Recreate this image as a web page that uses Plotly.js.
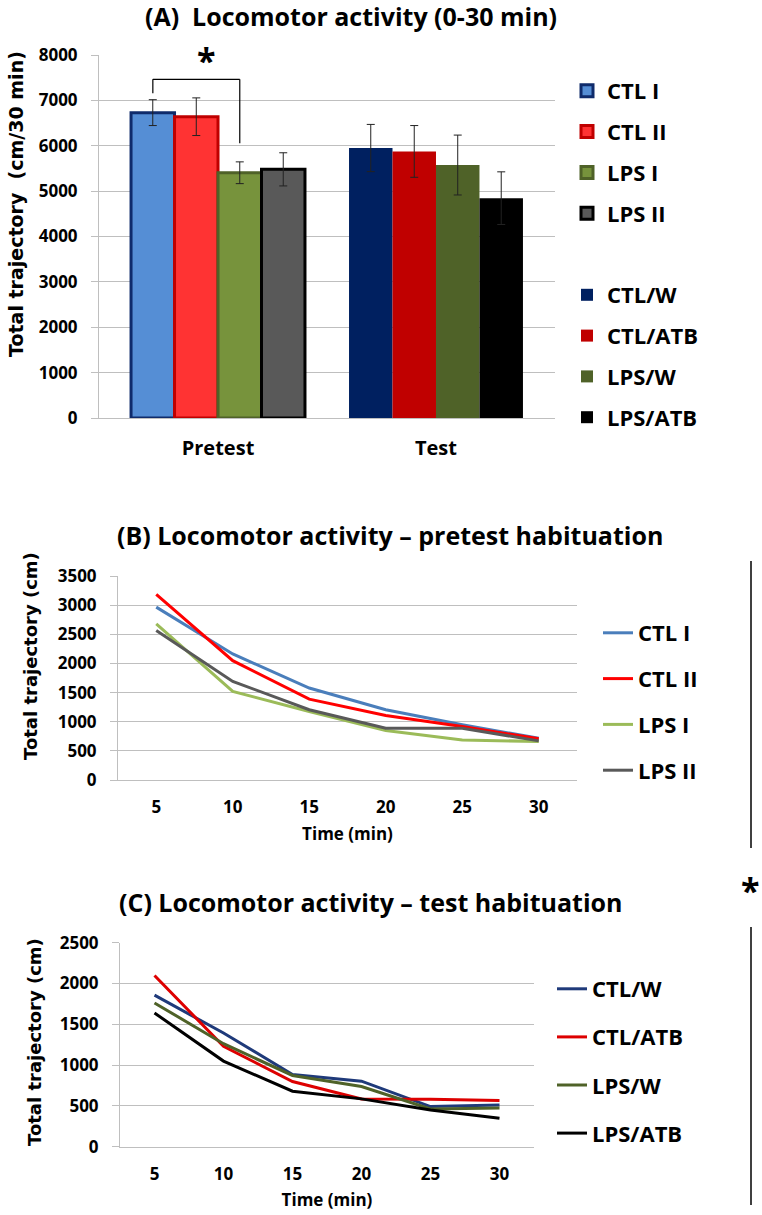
<!DOCTYPE html>
<html>
<head>
<meta charset="utf-8">
<script src="https://cdn.plot.ly/plotly-3.0.1.min.js"></script>
<style>
html,body{margin:0;padding:0;background:#fff;}
#chart{width:762px;height:1215px;}
</style>
</head>
<body>
<div id="chart"></div>
<script>
// ---------- DATA ----------
const categoriesA = ['Pretest', 'Test'];
const pretestNames = ['CTL I', 'CTL II', 'LPS I', 'LPS II'];
const pretestValues = [6730, 6640, 5405, 5480];
const pretestErrors = [285, 415, 240, 365];
const testNames = ['CTL/W', 'CTL/ATB', 'LPS/W', 'LPS/ATB'];
const testValues = [5950, 5875, 5575, 4845];
const testErrors = [520, 570, 660, 580];

const timeLabels = ['5', '10', '15', '20', '25', '30'];
// Panel B (pretest habituation)
const ctlI = [2966, 2163, 1578, 1205, 947, 717];
const ctlII = [3184, 2048, 1388, 1107, 918, 706];
const lpsI = [2679, 1520, 1176, 849, 688, 660];
const lpsII = [2564, 1692, 1205, 889, 889, 671];
// Panel C (test habituation)
const ctlW = [1857, 1393, 885, 803, 492, 512];
const ctlATB = [2098, 1230, 799, 586, 582, 566];
const lpsW = [1762, 1262, 873, 738, 463, 475];
const lpsATB = [1639, 1049, 680, 586, 451, 348];

// ---------- STYLE ----------
const W = 762, H = 1215;
const px = v => v / W;
const py = v => 1 - v / H;
const FONT = 'Open Sans, Roboto, sans-serif';
const AXT = 'DejaVu Sans, Verdana, sans-serif';

const pretestFill = ['#558ed5', '#ff3333', '#77933c', '#595959'];
const pretestLine = ['#0f2b6b', '#c00000', '#4f6228', '#000000'];
const testFill = ['#002060', '#c00000', '#4f6228', '#000000'];
const colorsB = ['#4a7ebb', '#ff0000', '#9bbb59', '#595959'];
const colorsC = ['#1f3a7a', '#dd0000', '#4f6228', '#000000'];

const traces = [];
pretestNames.forEach((n, i) => {
  traces.push({
    type: 'bar', name: n, x: [categoriesA[0]], y: [pretestValues[i]],
    offsetgroup: 'g' + i, legend: 'legend', legendgroup: 'a' + i,
    marker: {color: pretestFill[i], line: {color: pretestLine[i], width: 3}},
    error_y: {type: 'data', array: [pretestErrors[i]], color: '#222', thickness: 1, width: 4},
    xaxis: 'x', yaxis: 'y', hoverinfo: 'skip'
  });
});
testNames.forEach((n, i) => {
  traces.push({
    type: 'bar', name: n, x: [categoriesA[1]], y: [testValues[i]],
    offsetgroup: 'g' + i, legend: 'legend2', legendgroup: 'b' + i,
    marker: {color: testFill[i], line: {width: 0}},
    error_y: {type: 'data', array: [testErrors[i]], color: '#222', thickness: 1, width: 4},
    xaxis: 'x', yaxis: 'y', hoverinfo: 'skip'
  });
});
const seriesB = [ctlI, ctlII, lpsI, lpsII];
pretestNames.forEach((n, i) => {
  traces.push({
    type: 'scatter', mode: 'lines', name: n, x: timeLabels, y: seriesB[i],
    line: {color: colorsB[i], width: 3}, legend: 'legend3', legendgroup: 'c' + i,
    xaxis: 'x2', yaxis: 'y2', hoverinfo: 'skip'
  });
});
const seriesC = [ctlW, ctlATB, lpsW, lpsATB];
testNames.forEach((n, i) => {
  traces.push({
    type: 'scatter', mode: 'lines', name: n, x: timeLabels, y: seriesC[i],
    line: {color: colorsC[i], width: 3}, legend: 'legend4', legendgroup: 'd' + i,
    xaxis: 'x3', yaxis: 'y3', hoverinfo: 'skip'
  });
});

const tickFont = {family: FONT, size: 17, color: '#000', weight: 'bold'};
const legFont = {family: FONT, size: 22, color: '#000', weight: 'bold'};
const grid = '#bfbfbf';

function yax(domain, range, dtick) {
  return {
    domain: domain, range: range, dtick: dtick, showgrid: true, gridcolor: grid, gridwidth: 1,
    showline: true, linecolor: grid, linewidth: 1, ticks: 'outside', ticklen: 7, tickcolor: grid,
    zeroline: false, tickfont: tickFont, ticklabelstandoff: 10, fixedrange: true
  };
}
function xax(domain, anchor, cats, range, size, standoff) {
  return {
    domain: domain, anchor: anchor, type: 'category', categoryarray: cats, categoryorder: 'array',
    range: range, autorange: false,
    showline: true, linecolor: grid, linewidth: 1, ticks: '', showgrid: false, zeroline: false,
    tickfont: Object.assign({}, tickFont, {size: size}), ticklabelstandoff: standoff, fixedrange: true
  };
}
function leg(x, y, gap) {
  return {x: px(x), y: py(y), xanchor: 'left', yanchor: 'top', font: legFont,
          tracegroupgap: gap, traceorder: 'grouped', bgcolor: 'rgba(0,0,0,0)'};
}

const layout = {
  width: W, height: H,
  margin: {l: 0, r: 0, t: 0, b: 0},
  paper_bgcolor: '#fff', plot_bgcolor: '#fff',
  barmode: 'group', bargap: 0.202, bargroupgap: 0,
  showlegend: true,
  title: {text: '(A)  Locomotor activity (0-30 min)', x: px(351), xanchor: 'center',
          y: py(17), yanchor: 'middle', font: {family: FONT, size: 25, color: '#000', weight: 'bold'}},
  xaxis: xax([px(99), px(555)], 'y', categoriesA, [-0.546, 1.546], 20, 12),
  yaxis: yax([py(418), py(55)], [0, 8000], 1000),
  xaxis2: Object.assign(xax([px(118), px(577)], 'y2', timeLabels, [-0.5, 5.5], 17, 12),
    {title: {text: 'Time (min)', font: {family: FONT, size: 17, color: '#000', weight: 'bold'}, standoff: 10}}),
  yaxis2: Object.assign(yax([py(780), py(576)], [0, 3500], 500), {anchor: 'x2'}),
  xaxis3: Object.assign(xax([px(120), px(534)], 'y3', timeLabels, [-0.5, 5.5], 17, 12),
    {title: {text: 'Time (min)', font: {family: FONT, size: 17, color: '#000', weight: 'bold'}, standoff: 10}}),
  yaxis3: Object.assign(yax([py(1146.7), py(942.7)], [0, 2500], 500), {anchor: 'x3'}),
  legend: leg(567, 70, 9.2),
  legend2: leg(567, 274, 9.2),
  legend3: leg(598, 612, 14.2),
  legend4: leg(552, 968, 16.5),
  annotations: [
    {text: 'Total trajectory  (cm/30 min)', textangle: -90, xref: 'paper', yref: 'paper',
     x: px(16), y: py(204), showarrow: false, xanchor: 'center', yanchor: 'middle',
     font: {family: AXT, size: 19, color: '#000', weight: 'bold'}},
    {text: 'Total trajectory (cm)', textangle: -90, xref: 'paper', yref: 'paper',
     x: px(30), y: py(656), showarrow: false, xanchor: 'center', yanchor: 'middle',
     font: {family: AXT, size: 18, color: '#000', weight: 'bold'}},
    {text: 'Total trajectory (cm)', textangle: -90, xref: 'paper', yref: 'paper',
     x: px(34), y: py(1042), showarrow: false, xanchor: 'center', yanchor: 'middle',
     font: {family: AXT, size: 18, color: '#000', weight: 'bold'}},
    {text: '(B) Locomotor activity \u2013 pretest habituation', xref: 'paper', yref: 'paper',
     x: px(390), y: py(535), showarrow: false, xanchor: 'center', yanchor: 'middle',
     font: {family: FONT, size: 25, color: '#000', weight: 'bold'}},
    {text: '(C) Locomotor activity \u2013 test habituation', xref: 'paper', yref: 'paper',
     x: px(371), y: py(902), showarrow: false, xanchor: 'center', yanchor: 'middle',
     font: {family: FONT, size: 25, color: '#000', weight: 'bold'}},
    {text: '*', xref: 'x', yref: 'y', x: -0.055, y: 7900, showarrow: false,
     xanchor: 'center', yanchor: 'middle', font: {family: FONT, size: 34, color: '#000', weight: 'bold'}},
    {text: '*', xref: 'paper', yref: 'paper', x: px(750), y: py(890), showarrow: false,
     xanchor: 'center', yanchor: 'middle', font: {family: FONT, size: 34, color: '#000', weight: 'bold'}}
  ],
  shapes: [
    {type: 'line', xref: 'x', yref: 'y', x0: -0.299, x1: -0.299, y0: 7156, y1: 7465, line: {color: '#000', width: 1.2}},
    {type: 'line', xref: 'x', yref: 'y', x0: -0.299, x1: 0.0998, y0: 7465, y1: 7465, line: {color: '#000', width: 1.2}},
    {type: 'line', xref: 'x', yref: 'y', x0: 0.0998, x1: 0.0998, y0: 7465, y1: 6054, line: {color: '#000', width: 1.2}},
    {type: 'line', xref: 'paper', yref: 'paper', x0: px(751), x1: px(751), y0: py(561), y1: py(848), line: {color: '#000', width: 1.5}},
    {type: 'line', xref: 'paper', yref: 'paper', x0: px(751), x1: px(751), y0: py(927), y1: py(1205), line: {color: '#000', width: 1.5}}
  ]
};

Plotly.newPlot('chart', traces, layout, {displayModeBar: false, staticPlot: true});
</script>
</body>
</html>
